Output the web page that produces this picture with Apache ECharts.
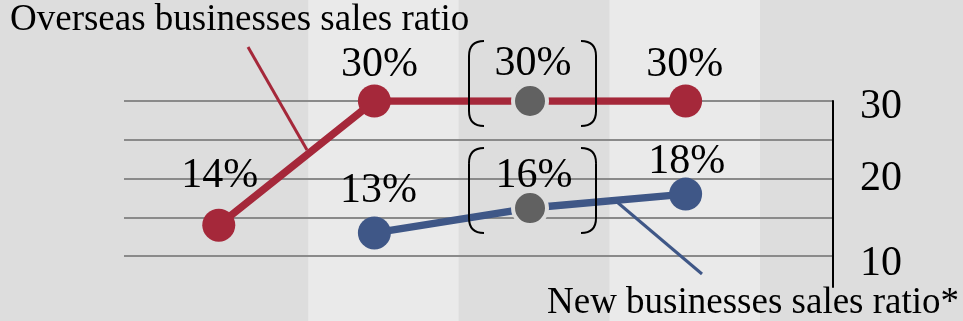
<!DOCTYPE html>
<html>
<head>
<meta charset="utf-8">
<script src="https://cdn.jsdelivr.net/npm/echarts@6/dist/echarts.min.js"></script>
<style>
html,body{margin:0;padding:0;background:#dddddd;}
#c{width:963px;height:321px;}
</style>
</head>
<body>
<div id="c"></div>
<script>
// ---- data ----
const periods = ['1', '2', '3', '4'];
const overseasRatio = [14, 30, 30, 30];
const newBizRatio = [null, 13, 16.2, 18];
const estimateIndex = 2;            // bracketed (grey) point
const yTickLabels = [10, 20, 30];
const overseasName = 'Overseas businesses sales ratio';
const newBizName = 'New businesses sales ratio*';

// ---- styling ----
const FONT = 'Liberation Serif';
const RED = '#a5283a', BLUE = '#3f5787', GREY = '#616161';
const BG = '#dddddd', BG_LIGHT = '#eaeaea';
// label nudges [dx, dy] per point
const redNudge = [[1, -12], [5, 1], [3, 3], [-1, 1]];
const blueNudge = [null, [4, -4], [4, 8], [1, 5]];

function buildData(vals, nudges) {
  return vals.map((v, i) => {
    if (v == null) return null;
    const item = { value: [i, v], label: { offset: nudges[i] } };
    if (i === estimateIndex) {
      item.symbolSize = 34;
      item.itemStyle = { color: GREY, borderColor: BG, borderWidth: 4 };
    }
    return item;
  });
}

const chart = echarts.init(document.getElementById('c'));
const labelStyle = {
  show: true, position: 'top', distance: 0,
  fontFamily: FONT, fontSize: 42, color: '#000',
  formatter: p => Math.round(p.value[1]) + '%'
};

chart.setOption({
  animation: false,
  backgroundColor: BG,
  grid: [
    { left: 7, width: 753, top: 0, bottom: 0 },                 // background bands
    { left: 124, right: 130, top: 101, height: 194 },           // main plot
    { left: 124, right: 130, top: 101, height: 186 }            // axis line
  ],
  xAxis: [
    { gridIndex: 0, type: 'category', data: ['', '', '', '', ''], boundaryGap: true, z: -5,
      axisLine: { show: false }, axisTick: { show: false }, axisLabel: { show: false },
      splitLine: { show: false },
      splitArea: { show: true, areaStyle: { color: [BG, BG, BG_LIGHT, BG, BG_LIGHT] } } },
    { gridIndex: 1, type: 'value', min: -0.609, max: 3.947, show: false },
    { gridIndex: 2, type: 'value', min: 0, max: 1, show: false }
  ],
  yAxis: [
    { gridIndex: 0, type: 'value', show: false },
    { gridIndex: 1, type: 'value', position: 'right', min: 5, max: 30, interval: 5, z: 1,
      axisLine: { show: false }, axisTick: { show: false },
      splitLine: { show: true, showMinLine: false, lineStyle: { color: '#8a8a8a', width: 2 } },
      axisLabel: {
        margin: 27, fontFamily: FONT, fontSize: 42, color: '#000',
        formatter: v => {
          if (!yTickLabels.includes(v)) return '';
          if (v === 30) return '{a|' + v + '}';
          if (v === 10) return '{b|' + v + '}';
          return '{c|' + v + '}';
        },
        rich: {
          a: { fontFamily: FONT, fontSize: 42, padding: [12, 0, 0, 0] },
          b: { fontFamily: FONT, fontSize: 42, padding: [16, 0, 0, 0] },
          c: { fontFamily: FONT, fontSize: 42 }
        }
      } },
    { gridIndex: 2, type: 'value', position: 'right', min: 0, max: 1, z: 1,
      axisLine: { show: true, onZero: false, lineStyle: { color: '#000', width: 2 } },
      axisTick: { show: false }, axisLabel: { show: false }, splitLine: { show: false } }
  ],
  series: [
    { type: 'line', name: overseasName, xAxisIndex: 1, yAxisIndex: 1,
      data: buildData(overseasRatio, redNudge),
      symbol: 'circle', symbolSize: 33,
      lineStyle: { color: RED, width: 7.5 }, itemStyle: { color: RED },
      label: labelStyle, z: 3 },
    { type: 'line', name: newBizName, xAxisIndex: 1, yAxisIndex: 1,
      data: buildData(newBizRatio, blueNudge),
      symbol: 'circle', symbolSize: 33,
      lineStyle: { color: BLUE, width: 7.5 }, itemStyle: { color: BLUE },
      label: labelStyle, z: 3 }
  ]
});

// annotations: titles, leader lines, brackets around the estimate point
function bracketPair(px, py) {
  const L = px - 61, R = px + 66, T = py - 60, B = py + 25, h = 15;
  const st = { stroke: '#000', lineWidth: 2, fill: null };
  const out = [];
  [[L, 1], [R, -1]].forEach(([X, d]) => {
    out.push({ type: 'bezierCurve', z: 10, style: st,
      shape: { x1: X + d * h, y1: T, cpx1: X, cpy1: T, x2: X, y2: T + h } });
    out.push({ type: 'line', z: 10, style: st,
      shape: { x1: X, y1: T + h, x2: X, y2: B - h } });
    out.push({ type: 'bezierCurve', z: 10, style: st,
      shape: { x1: X, y1: B - h, cpx1: X, cpy1: B, x2: X + d * h, y2: B } });
  });
  return out;
}
const pRed = chart.convertToPixel({ seriesIndex: 0 }, [estimateIndex, overseasRatio[estimateIndex]]);
const pBlue = chart.convertToPixel({ seriesIndex: 1 }, [estimateIndex, newBizRatio[estimateIndex]]);

chart.setOption({
  graphic: [
    { type: 'text', z: 10, x: 10, y: 20.5,
      style: { text: overseasName, font: '37px "' + FONT + '"', fill: '#000', verticalAlign: 'middle' } },
    { type: 'text', z: 10, x: 547, y: 303.5,
      style: { text: newBizName, font: '37px "' + FONT + '"', fill: '#000', verticalAlign: 'middle' } },
    { type: 'line', z: 1, shape: { x1: 248, y1: 47, x2: 307, y2: 150 }, style: { stroke: RED, lineWidth: 3 } },
    { type: 'line', z: 1, shape: { x1: 617, y1: 202, x2: 702, y2: 274 }, style: { stroke: BLUE, lineWidth: 3 } },
    ...bracketPair(pRed[0], pRed[1]),
    ...bracketPair(pBlue[0], pBlue[1])
  ]
});
</script>
</body>
</html>
